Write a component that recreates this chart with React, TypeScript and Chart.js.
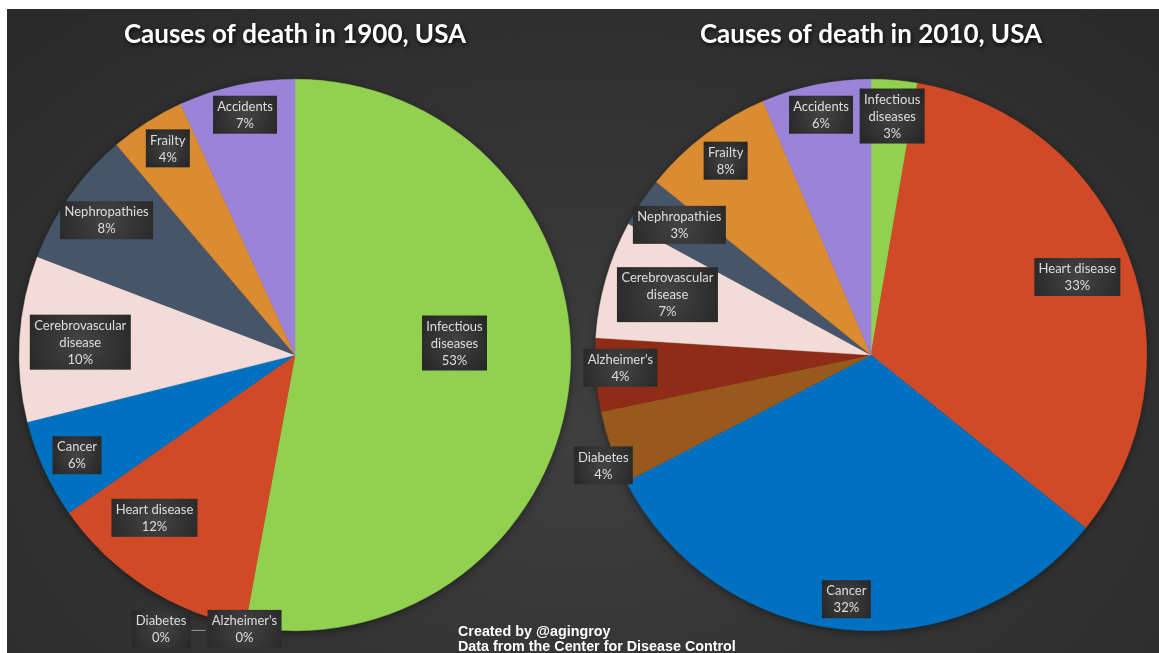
import React, { useEffect, useRef } from "react";
import { Chart, registerables } from "chart.js";

Chart.register(...registerables);

// ---------- Data ----------
const title1900 = "Causes of death in 1900, USA";
const categories1900 = [
  "Infectious diseases",
  "Alzheimer's",
  "Diabetes",
  "Heart disease",
  "Cancer",
  "Cerebrovascular disease",
  "Nephropathies",
  "Frailty",
  "Accidents",
];
const values1900 = [52.9, 0, 0, 12.4, 5.8, 9.7, 8.0, 4.4, 6.8];

const title2010 = "Causes of death in 2010, USA";
const categories2010 = [
  "Infectious diseases",
  "Heart disease",
  "Cancer",
  "Diabetes",
  "Alzheimer's",
  "Cerebrovascular disease",
  "Nephropathies",
  "Frailty",
  "Accidents",
];
const values2010 = [2.7, 33.1, 31.6, 4.3, 4.3, 6.9, 2.9, 7.8, 6.4];

const footerLines = ["Created by @agingroy", "Data from the Center for Disease Control"];

// ---------- Styles ----------
const causeColors: Record<string, string> = {
  "Infectious diseases": "#92D050",
  "Heart disease": "#D04A27",
  Cancer: "#0070C0",
  Diabetes: "#98591C",
  "Alzheimer's": "#8E2C18",
  "Cerebrovascular disease": "#F3DCD8",
  Nephropathies: "#465569",
  Frailty: "#DB8B30",
  Accidents: "#9B84D8",
};

// label placement: fraction along slice angle, fraction of radius
const labelAngle1900 = [0.45, 0.5, 0.5, 0.68, 0.49, 0.5, 0.51, 0.55, 0.52];
const labelRadius1900 = [0.58, 1.01, 1.01, 0.78, 0.87, 0.78, 0.84, 0.88, 0.89];
const labelAngle2010 = [0.52, 0.5, 0.5, 0.32, 0.58, 0.52, 0.55, 0.51, 0.49];
const labelRadius2010 = [0.87, 0.8, 0.89, 1.05, 0.91, 0.77, 0.84, 0.88, 0.89];

const LABEL_FONT = "13px Lato, 'Open Sans', sans-serif";
const LINE_H = 17;
const PAD_X = 4;
const PAD_Y = 2;
const MAX_W = 90;

function wrapText(ctx: CanvasRenderingContext2D, text: string, maxW: number): string[] {
  const words = text.split(" ");
  const lines: string[] = [];
  let cur = "";
  for (const w of words) {
    const test = cur ? cur + " " + w : w;
    if (cur && ctx.measureText(test).width > maxW) {
      lines.push(cur);
      cur = w;
    } else cur = test;
  }
  if (cur) lines.push(cur);
  return lines;
}

// gives the title a soft drop shadow, then clears it before slices are drawn
const titleShadowPlugin = {
  id: "titleShadow",
  beforeDraw(chart: any) {
    const ctx = chart.ctx as CanvasRenderingContext2D;
    ctx.save();
    ctx.shadowColor = "rgba(0,0,0,0.8)";
    ctx.shadowBlur = 4;
    ctx.shadowOffsetX = 1;
    ctx.shadowOffsetY = 2;
  },
  beforeDatasetsDraw(chart: any) {
    chart.ctx.restore();
  },
};

const pieShadowPlugin = {
  id: "pieShadow",
  beforeDatasetsDraw(chart: any) {
    const meta = chart.getDatasetMeta(0);
    const arc = meta.data[0];
    if (!arc) return;
    const p = arc.getProps(["x", "y", "outerRadius"], true);
    const ctx = chart.ctx as CanvasRenderingContext2D;
    ctx.save();
    ctx.shadowColor = "rgba(0,0,0,0.55)";
    ctx.shadowBlur = 10;
    ctx.shadowOffsetY = 2;
    ctx.fillStyle = "#2a2a2a";
    ctx.beginPath();
    ctx.arc(p.x, p.y, p.outerRadius - 1, 0, Math.PI * 2);
    ctx.fill();
    ctx.restore();
  },
};

const boxLabelPlugin = {
  id: "boxLabels",
  afterDatasetsDraw(chart: any, _args: any, opts: any) {
    const ctx = chart.ctx as CanvasRenderingContext2D;
    const meta = chart.getDatasetMeta(0);
    const data = chart.data.datasets[0].data as number[];
    const labels = chart.data.labels as string[];
    const total = data.reduce((a, b) => a + b, 0);
    ctx.save();
    ctx.font = LABEL_FONT;
    ctx.textAlign = "center";
    ctx.textBaseline = "middle";
    const placed: { x: number; y: number; w: number; h: number }[] = [];
    meta.data.forEach((arc: any, i: number) => {
      const p = arc.getProps(["x", "y", "startAngle", "endAngle", "outerRadius"], true);
      const a = p.startAngle + (p.endAngle - p.startAngle) * opts.angle[i];
      const r = p.outerRadius * opts.radius[i];
      const cx = p.x + Math.cos(a) * r;
      const cy = p.y + Math.sin(a) * r;
      const lines = wrapText(ctx, labels[i], MAX_W);
      lines.push(Math.round((data[i] / total) * 100) + "%");
      const w = Math.ceil(Math.max(...lines.map((l) => ctx.measureText(l).width))) + PAD_X * 2;
      const h = lines.length * LINE_H + PAD_Y * 2;
      const box = { x: cx - w / 2, y: cy - h / 2, w, h };
      let leader: null | { x1: number; x2: number; y: number } = null;
      for (const b of placed) {
        const overlap =
          box.x < b.x + b.w && box.x + box.w > b.x && box.y < b.y + b.h && box.y + box.h > b.y;
        if (overlap) {
          box.x = b.x - 17 - box.w;
          leader = { x1: box.x + box.w + 1, x2: b.x - 2, y: box.y + PAD_Y + LINE_H + 1 };
        }
      }
      placed.push(box);
      const g = ctx.createRadialGradient(
        box.x + box.w / 2,
        box.y + box.h / 2,
        0,
        box.x + box.w / 2,
        box.y + box.h / 2,
        Math.max(box.w, box.h) * 0.7
      );
      g.addColorStop(0, "#444444");
      g.addColorStop(1, "#222222");
      ctx.fillStyle = g;
      ctx.fillRect(box.x, box.y, box.w, box.h);
      ctx.fillStyle = "#dedede";
      lines.forEach((l, k) => {
        ctx.fillText(l, box.x + box.w / 2, box.y + PAD_Y + LINE_H * k + LINE_H / 2 + 0.5);
      });
      if (leader) {
        ctx.strokeStyle = "#9a9a9a";
        ctx.lineWidth = 1;
        ctx.beginPath();
        ctx.moveTo(leader.x1, leader.y + 0.5);
        ctx.lineTo(leader.x2, leader.y + 0.5);
        ctx.stroke();
      }
    });
    ctx.restore();
  },
};

function PieChart(props: {
  title: string;
  categories: string[];
  values: number[];
  labelAngle: number[];
  labelRadius: number[];
  left: number;
  width: number;
  padLeft: number;
  padRight: number;
}) {
  const ref = useRef<HTMLCanvasElement>(null);
  useEffect(() => {
    if (!ref.current) return;
    const colors = props.categories.map((c) => causeColors[c]);
    const chart = new Chart(ref.current, {
      type: "pie",
      data: {
        labels: props.categories,
        datasets: [
          {
            data: props.values,
            backgroundColor: colors,
            borderColor: colors,
            borderWidth: 0.5,
          },
        ],
      },
      options: {
        responsive: false,
        animation: false,
        devicePixelRatio: 1,
        layout: { padding: { top: 0, bottom: 22, left: props.padLeft, right: props.padRight } },
        plugins: {
          legend: { display: false },
          tooltip: { enabled: false },
          title: {
            display: true,
            text: props.title,
            color: "#ffffff",
            font: { family: "Lato, 'Open Sans', sans-serif", size: 26, weight: "bold" },
            padding: { top: 10, bottom: 28.8 },
          },
          // @ts-ignore
          boxLabels: { angle: props.labelAngle, radius: props.labelRadius },
        },
      },
      plugins: [titleShadowPlugin, pieShadowPlugin, boxLabelPlugin],
    } as any);
    return () => chart.destroy();
  }, []);
  return (
    <canvas
      ref={ref}
      width={props.width}
      height={644}
      style={{ display: "block", position: "absolute", left: props.left, top: 0 }}
    />
  );
}

export default function App() {
  return (
    <div
      style={{
        position: "fixed",
        left: 7,
        top: 9,
        width: 1152,
        height: 644,
        overflow: "hidden",
        background:
          "radial-gradient(ellipse 70% 85% at 50% 65%, #3f3f3f 0%, #353535 45%, #2a2a2a 100%)",
      }}
    >
      <PieChart
        title={title1900}
        categories={categories1900}
        values={values1900}
        labelAngle={labelAngle1900}
        labelRadius={labelRadius1900}
        left={0}
        width={576}
        padLeft={0}
        padRight={0}
      />
      <PieChart
        title={title2010}
        categories={categories2010}
        values={values2010}
        labelAngle={labelAngle2010}
        labelRadius={labelRadius2010}
        left={546}
        width={606}
        padLeft={30}
        padRight={0}
      />
      <div
        style={{
          position: "absolute",
          left: 451,
          top: 614,
          color: "#ffffff",
          fontFamily: "'Liberation Sans Narrow', 'Arial Narrow', 'Liberation Sans', sans-serif",
          fontWeight: "bold",
          fontSize: 15,
          lineHeight: "15px",
          whiteSpace: "nowrap",
          transform: "scaleX(0.955)",
          transformOrigin: "left top",
        }}
      >
        {footerLines.map((l) => (
          <div key={l}>{l}</div>
        ))}
      </div>
    </div>
  );
}
